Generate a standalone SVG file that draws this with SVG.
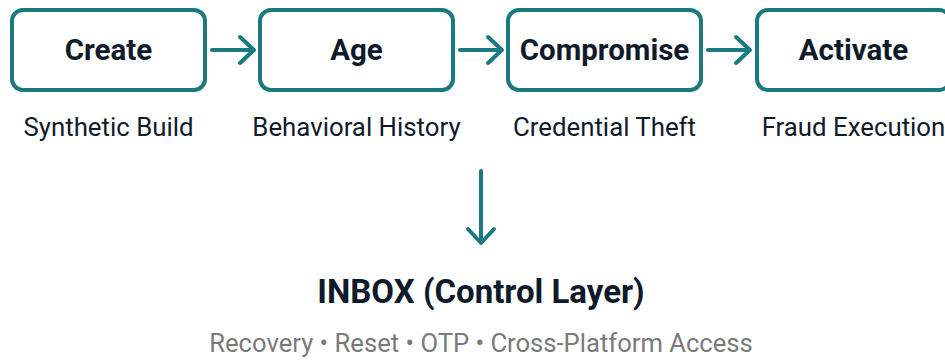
<svg xmlns="http://www.w3.org/2000/svg" width="945" height="360" viewBox="0 0 945 360">
<style>
.box{fill:#fff;stroke:#1b7a80;stroke-width:4}
.title{font-family:Roboto,"Liberation Sans",sans-serif;font-weight:700;font-size:29.5px;fill:#0f1a2b;text-anchor:middle}
.sub{font-family:Roboto,"Liberation Sans",sans-serif;font-size:25.8px;fill:#0f1a2b;text-anchor:middle}
.conn{stroke:#1b7a80;stroke-width:4;fill:none;stroke-linecap:round;stroke-linejoin:round}
.main{font-family:Roboto,"Liberation Sans",sans-serif;font-weight:700;font-size:33px;fill:#0f1a2b;text-anchor:middle}
.note{font-family:Roboto,"Liberation Sans",sans-serif;font-size:25.6px;fill:#7a7a7a;text-anchor:middle}
</style>
<rect width="945" height="360" fill="#fff"/>
<g id="create">
<rect class="box" x="12" y="10" width="193" height="80" rx="11"/>
<text class="title" x="108.5" y="60">Create</text>
<text class="sub" x="108.5" y="136">Synthetic Build</text>
</g>
<g id="age">
<rect class="box" x="260" y="10" width="193" height="80" rx="11"/>
<text class="title" x="356.5" y="60">Age</text>
<text class="sub" x="356.5" y="136">Behavioral History</text>
</g>
<g id="compromise">
<rect class="box" x="508" y="10" width="193" height="80" rx="11"/>
<text class="title" x="604.5" y="60">Compromise</text>
<text class="sub" x="604.5" y="136">Credential Theft</text>
</g>
<g id="activate">
<rect class="box" x="757" y="10" width="193" height="80" rx="11"/>
<text class="title" x="853.5" y="60">Activate</text>
<text class="sub" x="853.5" y="136">Fraud Execution</text>
</g>
<g id="connectors">
<path class="conn" d="M212 50H253M240 37L254 50L240 63"/>
<path class="conn" d="M460 50H501M488 37L502 50L488 63"/>
<path class="conn" d="M708 50H749M736 37L750 50L736 63"/>
<path class="conn" d="M481 171V242M468 229L481 243L494 229"/>
</g>
<g id="inbox">
<text class="main" x="481" y="303">INBOX (Control Layer)</text>
<text class="note" x="481" y="352">Recovery • Reset • OTP • Cross-Platform Access</text>
</g>
</svg>
